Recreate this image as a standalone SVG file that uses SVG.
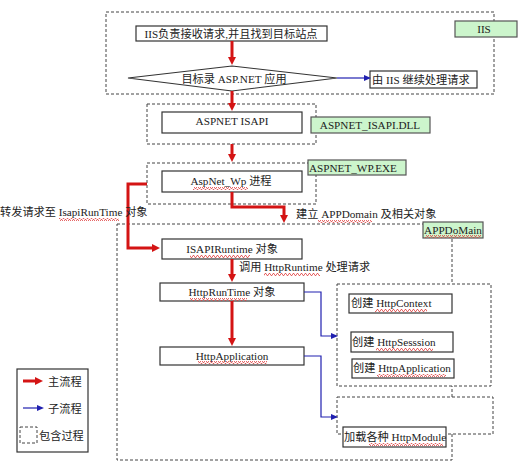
<svg xmlns="http://www.w3.org/2000/svg" width="521" height="464" viewBox="0 0 521 464">
<style>
text{font-family:"Liberation Serif","Noto Sans CJK SC",serif;font-size:11.2px;fill:#222}
.c{text-anchor:middle}
.box{fill:#fff;stroke:#333;stroke-width:1.2}
.grn{fill:#ccf5cc;stroke:#555;stroke-width:1.2}
.dash{fill:none;stroke:#444;stroke-width:1;stroke-dasharray:3 2}
.dashw{fill:#fff;stroke:#444;stroke-width:1;stroke-dasharray:3 2}
.red{fill:none;stroke:#d41414;stroke-width:3}
.blue{fill:none;stroke:#2020b0;stroke-width:1.2}
.wv{fill:url(#wavy)}
</style>
<defs>
<marker id="ar" viewBox="0 0 8 8" markerWidth="8" markerHeight="8" refX="4" refY="4" orient="auto" markerUnits="userSpaceOnUse"><path d="M0,0L8,4L0,8z" fill="#d41414"/></marker>
<marker id="ab" viewBox="0 0 7 6" markerWidth="7" markerHeight="6" refX="3" refY="3" orient="auto" markerUnits="userSpaceOnUse"><path d="M0,0L7,3L0,6z" fill="#2020b0"/></marker>
<pattern id="wavy" width="4" height="3" patternUnits="userSpaceOnUse"><path d="M0,2.5L1,0.5L2,0.5L3,2.5L4,2.5" fill="none" stroke="#e04040" stroke-width="0.8"/></pattern>
</defs>

<g id="appdomain">
<rect class="dash" x="117" y="224" width="335" height="236"/>
<rect class="grn" x="423" y="222" width="60" height="16"/>
<text x="453" y="234" class="c">APPDoMain</text>
</g>

<g id="iis">
<rect class="dash" x="106" y="12" width="388" height="82"/>
<rect class="grn" x="455" y="21" width="62" height="16"/>
<text x="484" y="33" class="c">IIS</text>
</g>
<g id="iis-receive">
<rect class="box" x="136" y="26" width="191" height="15"/>
<text x="231" y="38" class="c">IIS负责接收请求,并且找到目标站点</text>
</g>
<g id="decision">
<polygon points="128,78 232,66 337,78 232,91" fill="#fff" stroke="#333" stroke-width="1.1"/>
<text x="234" y="83" class="c">目标录 ASP.NET 应用</text>
</g>
<g id="iis-continue">
<rect class="box" x="370" y="71" width="107" height="17"/>
<text x="372" y="84">由 IIS 继续处理请求</text>
</g>

<g id="isapi">
<rect class="dash" x="147" y="104" width="169" height="40"/>
<rect class="box" x="162" y="112" width="140" height="21"/>
<text x="232" y="125" class="c">ASPNET ISAPI</text>
<rect class="grn" x="311" y="117" width="119" height="16"/>
<text x="370" y="129" class="c">ASPNET_ISAPI.DLL</text>
</g>

<g id="wp">
<rect class="dash" x="147" y="163" width="169" height="41"/>
<rect class="box" x="162" y="171" width="140" height="21"/>
<text x="231" y="185" class="c">AspNet_Wp 进程</text>
<rect class="grn" x="308" y="160" width="98" height="15"/>
<text x="309" y="172">ASPNET_WP.EXE</text>
</g>

<g id="isapiruntime">
<rect class="box" x="162" y="239" width="140" height="20"/>
<text x="232" y="253" class="c">ISAPIRuntime 对象</text>
</g>
<g id="httpruntime">
<rect class="box" x="160" y="283" width="144" height="18"/>
<text x="232" y="296" class="c">HttpRunTime 对象</text>
</g>
<g id="httpapplication">
<rect class="box" x="160" y="347" width="144" height="18"/>
<text x="232" y="360" class="c">HttpApplication</text>
</g>

<g id="create-group">
<rect class="dashw" x="337" y="284" width="154" height="102"/>
<rect class="box" x="349" y="294" width="103" height="19"/>
<text x="351" y="307">创建 HttpContext</text>
<rect class="box" x="351" y="332" width="102" height="20"/>
<text x="352" y="346">创建 HttpSesssion</text>
<rect class="box" x="352" y="359" width="102" height="19"/>
<text x="353" y="372">创建 HttpApplication</text>
</g>
<g id="module-group">
<rect class="dashw" x="337" y="397" width="156" height="37"/>
<rect class="box" x="343" y="427" width="103" height="20"/>
<text x="344" y="441">加载各种 HttpModule</text>
</g>

<g id="connectors">
<path class="red" d="M232,41V61" marker-end="url(#ar)"/>
<path class="red" d="M232,91V107" marker-end="url(#ar)"/>
<path class="red" d="M232,144V158" marker-end="url(#ar)"/>
<path class="red" d="M232,192V207H284V219" marker-end="url(#ar)"/>
<path class="red" d="M147,184H128V248H156" marker-end="url(#ar)"/>
<path class="red" d="M232,259V278" marker-end="url(#ar)"/>
<path class="red" d="M232,301V342" marker-end="url(#ar)"/>
<path class="blue" d="M337,78H367" marker-end="url(#ab)"/>
<path class="blue" d="M304,292H321V336H334" marker-end="url(#ab)"/>
<path class="blue" d="M304,356H321V417H334" marker-end="url(#ab)"/>
<text x="296" y="218">建立 APPDomain 及相关对象</text>
<text x="0" y="216">转发请求至 IsapiRunTime 对象</text>
<text x="239" y="271">调用 HttpRuntime 处理请求</text>
</g>

<g id="spellmarks">
<rect class="wv" x="193" y="187" width="55" height="3"/>
<rect class="wv" x="59" y="218" width="60" height="3"/>
<rect class="wv" x="318" y="220" width="54" height="3"/>
<rect class="wv" x="425" y="235" width="56" height="3"/>
<rect class="wv" x="190" y="255" width="60" height="3"/>
<rect class="wv" x="264" y="273" width="56" height="3"/>
<rect class="wv" x="190" y="298" width="57" height="3"/>
<rect class="wv" x="198" y="361" width="69" height="3"/>
<rect class="wv" x="375" y="309" width="52" height="3"/>
<rect class="wv" x="376" y="348" width="57" height="3"/>
<rect class="wv" x="377" y="374" width="69" height="3"/>
<rect class="wv" x="369" y="443" width="74" height="3"/>
</g>

<g id="legend">
<rect x="17" y="369" width="71" height="83" fill="#fff" stroke="#333" stroke-width="1.2"/>
<path class="red" d="M23,381H39" marker-end="url(#ar)"/>
<text x="48" y="386">主流程</text>
<path class="blue" d="M23,408H40" marker-end="url(#ab)"/>
<text x="48" y="413">子流程</text>
<rect class="dash" x="20" y="427" width="17" height="16"/>
<text x="39" y="440">包含过程</text>
</g>
</svg>
